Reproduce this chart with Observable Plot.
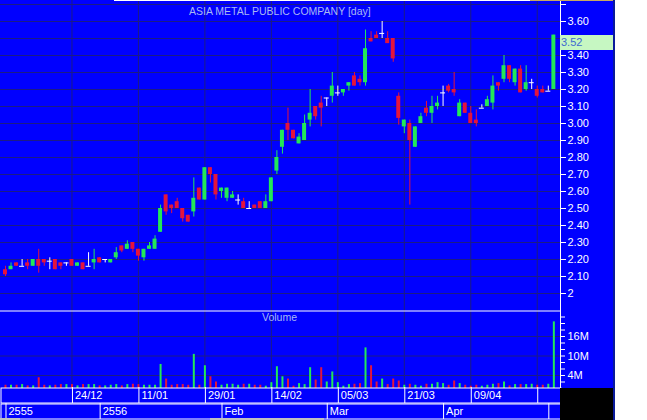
<!DOCTYPE html>
<html><head><meta charset="utf-8">
<script src="https://cdn.jsdelivr.net/npm/d3@7"></script>
<script src="https://cdn.jsdelivr.net/npm/@observablehq/plot@0.6"></script>
<style>
body{margin:0;background:#fff;}
#chart{position:relative;width:613px;height:420px;background:#0000ff;border-right:2px solid #0a1a9a;overflow:hidden;font-family:"Liberation Sans",Arial,sans-serif;}
#chart > *{position:absolute;}
.lbl{color:#a9b9f2;font-size:10.5px;line-height:12px;white-space:nowrap;}
</style></head><body><div id="chart"></div><script>
// ---- data ----
const dates = ["2012-12-04","2012-12-06","2012-12-07","2012-12-11","2012-12-12","2012-12-13","2012-12-14","2012-12-17","2012-12-18","2012-12-19","2012-12-20","2012-12-21","2012-12-24","2012-12-25","2012-12-26","2012-12-27","2012-12-28",
"2013-01-02","2013-01-03","2013-01-04","2013-01-07","2013-01-08","2013-01-09","2013-01-10","2013-01-11","2013-01-14","2013-01-15","2013-01-16","2013-01-17","2013-01-18","2013-01-21","2013-01-22","2013-01-23","2013-01-24","2013-01-25","2013-01-28","2013-01-29","2013-01-30","2013-01-31",
"2013-02-01","2013-02-04","2013-02-05","2013-02-06","2013-02-07","2013-02-08","2013-02-11","2013-02-12","2013-02-13","2013-02-14","2013-02-15","2013-02-18","2013-02-19","2013-02-20","2013-02-21","2013-02-22","2013-02-26","2013-02-27","2013-02-28",
"2013-03-01","2013-03-04","2013-03-05","2013-03-06","2013-03-07","2013-03-08","2013-03-11","2013-03-12","2013-03-13","2013-03-14","2013-03-15","2013-03-18","2013-03-19","2013-03-20","2013-03-21","2013-03-22","2013-03-25","2013-03-26","2013-03-27","2013-03-28","2013-03-29",
"2013-04-01","2013-04-02","2013-04-03","2013-04-04","2013-04-05","2013-04-09","2013-04-10","2013-04-11","2013-04-12","2013-04-17","2013-04-18","2013-04-19","2013-04-22","2013-04-23","2013-04-24","2013-04-25","2013-04-26","2013-04-29","2013-04-30",
"2013-05-02","2013-05-03"];
const open  = [2.14,2.14,2.18,2.16,2.18,2.16,2.20,2.20,2.19,2.20,2.18,2.18,2.20,2.16,2.18,2.16,2.18,2.21,2.20,2.18,2.21,2.28,2.26,2.30,2.26,2.21,2.26,2.26,2.36,2.58,2.52,2.54,2.50,2.46,2.48,2.62,2.55,2.74,2.70,2.60,2.56,2.56,2.55,2.54,2.50,2.52,2.54,2.50,2.54,2.72,2.86,3.00,2.96,2.88,2.90,3.02,3.10,3.12,3.15,3.16,3.18,3.18,3.22,3.28,3.26,3.24,3.50,3.52,3.53,3.50,3.50,3.16,2.98,3.00,2.86,3.00,3.09,3.06,3.10,3.18,3.22,3.20,3.04,3.12,3.06,3.02,3.09,3.10,3.12,3.24,3.26,3.34,3.24,3.32,3.20,3.24,3.20,3.20,3.19,3.20];
const high  = [2.16,2.18,2.18,2.20,2.20,2.20,2.26,2.20,2.21,2.20,2.18,2.18,2.20,2.18,2.18,2.24,2.26,2.21,2.20,2.20,2.27,2.28,2.31,2.30,2.26,2.26,2.30,2.34,2.52,2.58,2.52,2.56,2.50,2.46,2.68,2.62,2.74,2.74,2.70,2.62,2.62,2.60,2.58,2.56,2.54,2.52,2.54,2.58,2.68,2.84,2.96,3.09,2.96,2.94,3.05,3.20,3.10,3.16,3.15,3.30,3.22,3.20,3.24,3.30,3.28,3.55,3.54,3.54,3.60,3.54,3.50,3.18,3.02,3.02,2.98,3.06,3.13,3.16,3.16,3.22,3.23,3.30,3.14,3.12,3.10,3.08,3.11,3.16,3.28,3.24,3.40,3.34,3.32,3.34,3.34,3.26,3.22,3.22,3.22,3.52];
const low   = [2.10,2.14,2.16,2.16,2.14,2.16,2.12,2.16,2.14,2.14,2.14,2.16,2.16,2.16,2.14,2.16,2.14,2.18,2.18,2.18,2.20,2.24,2.26,2.24,2.19,2.19,2.26,2.26,2.36,2.46,2.47,2.50,2.42,2.42,2.45,2.55,2.55,2.65,2.55,2.56,2.54,2.56,2.52,2.50,2.50,2.50,2.50,2.50,2.54,2.70,2.82,2.90,2.91,2.88,2.90,2.98,3.02,2.98,3.10,3.12,3.16,3.16,3.19,3.22,3.22,3.22,3.48,3.50,3.50,3.47,3.36,2.99,2.94,2.52,2.86,3.00,3.04,3.00,3.08,3.10,3.18,3.16,3.04,3.06,3.00,2.98,3.09,3.10,3.08,3.19,3.24,3.24,3.22,3.18,3.19,3.20,3.15,3.18,3.19,3.20];
const close = [2.11,2.16,2.16,2.16,2.16,2.20,2.16,2.18,2.19,2.14,2.16,2.18,2.16,2.18,2.14,2.16,2.20,2.18,2.20,2.20,2.24,2.25,2.29,2.26,2.22,2.26,2.28,2.32,2.50,2.48,2.50,2.50,2.44,2.42,2.56,2.55,2.74,2.70,2.58,2.62,2.62,2.58,2.55,2.50,2.50,2.50,2.50,2.54,2.68,2.80,2.96,2.96,2.91,2.92,3.00,3.06,3.04,3.09,3.15,3.22,3.18,3.20,3.24,3.22,3.24,3.44,3.48,3.50,3.53,3.47,3.38,3.03,3.02,2.90,2.98,3.04,3.06,3.10,3.12,3.18,3.19,3.18,3.12,3.06,3.00,3.00,3.09,3.14,3.22,3.22,3.34,3.26,3.32,3.18,3.24,3.24,3.16,3.18,3.19,3.52];
const volumeM = [1.0,1.0,1.0,1.2,0.8,0.8,3.3,1.0,0.8,1.0,1.2,1.2,1.2,0.8,1.2,1.2,1.2,0.8,0.8,1.0,1.2,0.8,1.2,1.3,1.2,1.0,1.0,1.0,7.4,2.9,1.0,1.2,1.2,1.0,10.5,1.0,7.0,3.6,2.0,1.0,1.3,1.3,1.0,1.3,1.3,1.0,1.0,0.7,1.8,6.7,3.6,2.9,0.7,1.5,1.2,6.4,2.6,6.4,2.0,5.1,1.8,0.7,1.2,1.3,1.5,12.5,7.0,2.0,2.9,1.2,2.9,2.3,1.0,1.3,1.0,0.7,1.3,1.3,1.8,1.5,1.0,2.3,1.5,1.0,0.7,1.0,0.7,1.0,1.3,1.5,2.0,0.8,1.2,1.2,1.2,1.3,1.0,1.0,1.3,20.5];
const priceTicks = [2.0,2.1,2.2,2.3,2.4,2.5,2.6,2.7,2.8,2.9,3.0,3.1,3.2,3.3,3.4,3.5,3.6,3.7];
const priceTickLabels = ["2","2.10","2.20","2.30","2.40","2.50","2.60","2.70","2.80","2.90","3.00","3.10","3.20","3.30","3.40","","3.60",""];
const volTicks = [2,4,6,8,10,12,14,16,18,20,22];
const volTickLabels = ["","4M","","","10M","","","16M","","",""];
const volGrid = [4,10,16];
const dayTickDates = ["2012-12-24","2013-01-11","2013-01-29","2013-02-14","2013-03-05","2013-03-21","2013-04-09","2013-04-29"];
const dayTickLabels = ["24/12","11/01","29/01","14/02","05/03","21/03","09/04",""];
const monthTickDates = ["2012-12-04","2013-01-02","2013-02-01","2013-03-01","2013-04-01","2013-05-02"];
const monthTickLabels = ["2555","2556","Feb","Mar","Apr",""];
const title = "ASIA METAL PUBLIC COMPANY [day]";

// ---- styles ----
const BG = "#0000ff", GRID = "#1c1c84", UP = "#22e858", DOWN = "#e4143c", DOJI = "#ffffff";
const FONT = '"Liberation Sans", Arial, sans-serif';
const data = dates.map((d, k) => ({i: k + 1, date: d, o: open[k], h: high[k], l: low[k], c: close[k], v: volumeM[k]}));
const col = d => d.c > d.o ? UP : d.c < d.o ? DOWN : DOJI;
const volCol = d => d.c < d.o ? DOWN : UP;
const idx = dt => dates.indexOf(dt) + 1;
const dayIdx = dayTickDates.map(idx);
const monthIdx = monthTickDates.map(idx);
const xScale = {domain: [0.1, 101.2], range: [0, 560], axis: null};
const baseStyle = {background: "transparent", color: "white", fontFamily: FONT, fontSize: "11px", overflow: "visible"};

const chart = document.getElementById("chart");
function place(el, left, top) { el.style.left = left + "px"; el.style.top = top + "px"; chart.appendChild(el); return el; }

// price panel
const pricePlot = Plot.plot({
  width: 613, height: 310, marginLeft: 0, marginTop: 0, marginBottom: 0, marginRight: 53,
  style: baseStyle,
  x: xScale,
  y: {domain: [1.9, 2 + 293 / 170], ticks: priceTicks, tickFormat: d => priceTickLabels[priceTicks.indexOf(d)] ?? "", tickSize: 5, tickPadding: 2, label: null, line: true, axis: "right"},
  marks: [
    Plot.ruleY(priceTicks, {stroke: GRID}),
    Plot.ruleX(dayIdx, {stroke: GRID}),
    Plot.ruleX(data, {x: "i", y1: "l", y2: "h", stroke: col, strokeWidth: 1}),
    Plot.rect(data.filter(d => d.c !== d.o), {x1: d => d.i - 0.36, x2: d => d.i + 0.36, y1: "o", y2: "c", fill: col}),
    Plot.ruleY(data.filter(d => d.c === d.o), {y: "o", x1: d => d.i - 0.45, x2: d => d.i + 0.45, stroke: DOJI})
  ]
});
place(pricePlot, 0, 0);

// volume panel
const volPlot = Plot.plot({
  width: 613, height: 78, marginLeft: 0, marginTop: 0, marginBottom: 0, marginRight: 53,
  style: baseStyle,
  x: xScale,
  y: {domain: [0, 24], ticks: volTicks, tickFormat: d => volTickLabels[volTicks.indexOf(d)] ?? "", tickSize: 4, tickPadding: 3, label: null, line: true, axis: "right"},
  marks: [
    Plot.ruleY(volGrid, {stroke: GRID}),
    Plot.ruleX(dayIdx, {stroke: GRID}),
    Plot.ruleX(data, {x: "i", y1: 0, y2: "v", stroke: volCol, strokeWidth: 2}),
    Plot.ruleY([24], {stroke: "white", dy: 0.5})
  ]
});
place(volPlot, 0, 310);

// date rows
function row(ticks, labels, top) {
  const p = Plot.plot({
    width: 561, height: 16, margin: 0,
    style: baseStyle,
    x: xScale, y: {domain: [0, 1], axis: null},
    marks: [
      Plot.frame({stroke: "white", inset: 0.5}),
      Plot.ruleX(ticks, {stroke: "white", dx: 0.5}),
      Plot.text(ticks, {x: d => d, text: (d, k) => labels[k], textAnchor: "start", dx: 3, frameAnchor: "middle", fill: "white"})
    ]
  });
  return place(p, 0, top);
}
row(dayIdx, dayTickLabels, 387);
row(monthIdx, monthTickLabels, 403);

// last price box (positioned by the price scale)
const yS = pricePlot.scale("y");
const last = data[data.length - 1];
const box = document.createElement("div");
box.textContent = last.c.toFixed(2);
Object.assign(box.style, {width: "52px", height: "15px", background: "#c6f7c2", color: "#3d6ad0", fontSize: "11px", lineHeight: "15px", paddingLeft: "1px"});
place(box, 560, Math.round(yS.apply(last.c)));

// titles
const t = document.createElement("div"); t.className = "lbl"; t.textContent = title; place(t, 189, 5);
const v = document.createElement("div"); v.className = "lbl"; v.textContent = "Volume"; place(v, 262, 311);

// decorations
function deco(left, top, w, h, bg) { const d = document.createElement("div"); Object.assign(d.style, {width: w + "px", height: h + "px", background: bg}); place(d, left, top); }
deco(560, 388, 53, 32, "#000");
deco(114, 0, 416, 1, "#fff");
deco(530, 0, 83, 1, "#c8a860");
deco(0, 418, 20, 2, "#c0c0c0");
deco(210, 418, 114, 2, "#c0c0c0");
</script></body></html>
